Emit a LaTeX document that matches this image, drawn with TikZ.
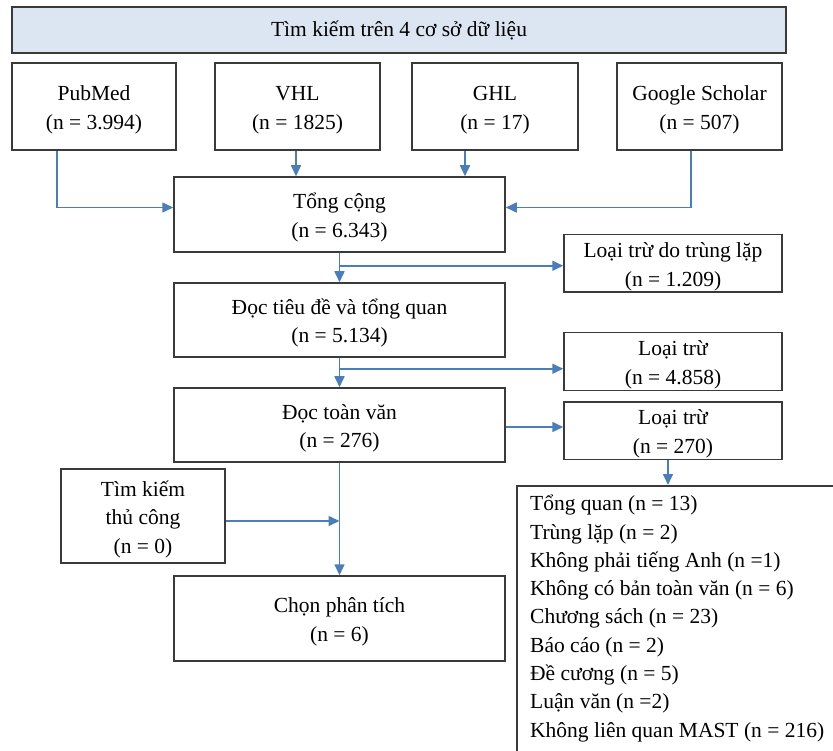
\documentclass[tikz,border=0pt]{standalone}
\usepackage{fontspec}
\setmainfont{Liberation Serif}
\usetikzlibrary{arrows.meta}
\definecolor{conn}{HTML}{4A7EBB}
\definecolor{topfill}{HTML}{DCE6F2}
\definecolor{edge}{HTML}{3A3A3A}
\newcommand\hiStrut{\rule{0pt}{23pt}}
\newcommand\loStrut{\rule[-6pt]{0pt}{6pt}}
\begin{document}
\begin{tikzpicture}[x=1pt,y=-1pt,
  box/.style={draw=edge, line width=1.5pt, rectangle, inner sep=0pt, align=center,
    font=\fontsize{21.5}{28.5}\selectfont},
  listtext/.style={inner sep=0pt, align=left, font=\fontsize{21.5}{28.3}\selectfont},
  arr/.style={draw=conn, line width=1.6pt, -{Triangle[length=11pt,width=10pt]}}]
\useasboundingbox (0,0) rectangle (833,751);
\clip (0,0) rectangle (833,751);
\fill[white] (0,0) rectangle (833,751);

\node[box, fill=topfill, minimum width=774pt, minimum height=46pt] (top) at (399,30) {Tìm kiếm trên 4 cơ sở dữ liệu};

\node[box, minimum width=164pt, minimum height=87pt] (pub) at (94,106.5) {\hiStrut PubMed\\(n = 3.994)\loStrut};
\node[box, minimum width=165pt, minimum height=87pt] (vhl) at (297.5,106.5) {\hiStrut VHL\\(n = 1825)\loStrut};
\node[box, minimum width=166pt, minimum height=87pt] (ghl) at (495,106.5) {\hiStrut GHL\\(n = 17)\loStrut};
\node[box, minimum width=165pt, minimum height=87pt] (gs) at (699.5,106.5) {\hiStrut Google Scholar\\(n = 507)\loStrut};

\node[box, minimum width=331pt, minimum height=75pt] (tot) at (339.5,214.5) {\hiStrut Tổng cộng\\(n = 6.343)\loStrut};
\node[box, minimum width=218pt, minimum height=57pt] (ex1) at (673,263.5) {\hiStrut Loại trừ do trùng lặp\\(n = 1.209)\loStrut};
\node[box, minimum width=331pt, minimum height=74pt] (doc1) at (339.5,320) {\hiStrut Đọc tiêu đề và tổng quan\\(n = 5.134)\loStrut};
\node[box, minimum width=218pt, minimum height=57pt] (ex2) at (673,361.5) {\hiStrut Loại trừ\\(n = 4.858)\loStrut};
\node[box, minimum width=331pt, minimum height=74pt] (doc2) at (339.5,425) {\hiStrut Đọc toàn văn\\(n = 276)\loStrut};
\node[box, minimum width=218pt, minimum height=57pt] (ex3) at (673,430.5) {\hiStrut Loại trừ\\(n = 270)\loStrut};
\node[box, minimum width=164pt, minimum height=94pt] (man) at (143,516) {\hiStrut Tìm kiếm\\thủ công\\(n = 0)\loStrut};
\node[box, minimum width=331pt, minimum height=85pt] (sel) at (339.5,618.5) {\hiStrut Chọn phân tích\\(n = 6)\loStrut};

\node[box, anchor=north west, minimum width=340pt, minimum height=290pt] (list) at (516,485) {};
\node[listtext, anchor=north west] (listtxt) at (530,495) {Tổng quan (n = 13)\\Trùng lặp (n = 2)\\Không phải tiếng Anh (n =1)\\Không có bản toàn văn (n = 6)\\Chương sách (n = 23)\\Báo cáo (n = 2)\\Đề cương (n = 5)\\Luận văn (n =2)\\Không liên quan MAST (n = 216)};

% connectors
\draw[arr] ([xshift=-37pt]pub.south) |- ([yshift=7pt]tot.west);
\draw[arr] ([xshift=-1.5pt]vhl.south) -- ([xshift=-1.5pt]vhl.south |- tot.north);
\draw[arr] ([xshift=-30pt]ghl.south) -- ([xshift=-30pt]ghl.south |- tot.north);
\draw[arr] ([xshift=-8.5pt]gs.south) |- ([yshift=7pt]tot.east);
\draw[arr] (tot.south) -- (doc1.north);
\draw[arr] ([yshift=-13pt]tot.south) -- ([yshift=-13pt]tot.south -| ex1.west);
\draw[arr] (doc1.south) -- (doc2.north);
\draw[arr] ([yshift=-11pt]doc1.south) -- ([yshift=-11pt]doc1.south -| ex2.west);
\draw[arr] ([yshift=-2pt]doc2.east) -- ([yshift=-2pt]doc2.east -| ex3.west);
\draw[arr] ([xshift=-5pt]ex3.south) -- ([xshift=-5pt]ex3.south |- list.north);
\draw[arr] (doc2.south) -- (sel.north);
\draw[arr] ([yshift=-5pt]man.east) -- ([yshift=-5pt]man.east -| doc2.south);
\end{tikzpicture}
\end{document}
